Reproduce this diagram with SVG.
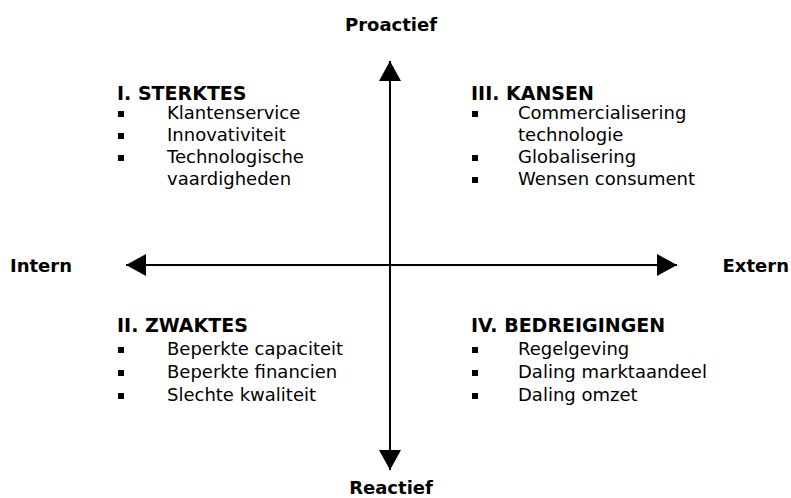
<svg xmlns="http://www.w3.org/2000/svg" width="791" height="498" viewBox="0 0 791 498">
  <style>
    text { font-family: "DejaVu Sans", Verdana, sans-serif; fill: #000; }
    .axis { font-size: 18px; font-weight: bold; }
    .head { font-size: 19px; font-weight: bold; }
    .item { font-size: 18px; }
    .bullet { fill: #000; }
    .line { stroke: #000; stroke-width: 2; fill: none; }
  </style>
  <defs>
    <marker id="arrow" viewBox="0 0 20 22" refX="20" refY="11" markerWidth="20" markerHeight="22" markerUnits="userSpaceOnUse" orient="auto">
      <path d="M0,0 L20,11 L0,22 Z" fill="#000"/>
    </marker>
    <rect id="sq" width="6" height="6" class="bullet"/>
  </defs>

  <rect width="791" height="498" fill="#fff"/>

  <!-- axes -->
  <g id="connectors">
    <line class="line" x1="390" y1="265" x2="390" y2="61" marker-end="url(#arrow)"/>
    <line class="line" x1="390" y1="265" x2="390" y2="470" marker-end="url(#arrow)"/>
    <line class="line" x1="390" y1="265" x2="126" y2="265" marker-end="url(#arrow)"/>
    <line class="line" x1="390" y1="265" x2="677" y2="265" marker-end="url(#arrow)"/>
  </g>

  <!-- axis labels -->
  <g id="label-proactief"><text class="axis" x="391" y="31" text-anchor="middle">Proactief</text></g>
  <g id="label-reactief"><text class="axis" x="391" y="494" text-anchor="middle">Reactief</text></g>
  <g id="label-intern"><text class="axis" x="10" y="272">Intern</text></g>
  <g id="label-extern"><text class="axis" x="789" y="272" text-anchor="end">Extern</text></g>

  <!-- quadrant I -->
  <g id="sterktes">
    <text class="head" x="117" y="100">I. STERKTES</text>
    <use href="#sq" x="118" y="111"/>
    <text class="item" x="167" y="119">Klantenservice</text>
    <use href="#sq" x="118" y="133"/>
    <text class="item" x="167" y="141">Innovativiteit</text>
    <use href="#sq" x="118" y="155"/>
    <text class="item" x="167" y="163">Technologische</text>
    <text class="item" x="167" y="185">vaardigheden</text>
  </g>

  <!-- quadrant III -->
  <g id="kansen">
    <text class="head" x="471" y="100">III. KANSEN</text>
    <use href="#sq" x="472" y="111"/>
    <text class="item" x="518" y="119">Commercialisering</text>
    <text class="item" x="518" y="141">technologie</text>
    <use href="#sq" x="472" y="155"/>
    <text class="item" x="518" y="163">Globalisering</text>
    <use href="#sq" x="472" y="177"/>
    <text class="item" x="518" y="185">Wensen consument</text>
  </g>

  <!-- quadrant II -->
  <g id="zwaktes">
    <text class="head" x="117" y="332">II. ZWAKTES</text>
    <use href="#sq" x="118" y="347"/>
    <text class="item" x="167" y="355">Beperkte capaciteit</text>
    <use href="#sq" x="118" y="370"/>
    <text class="item" x="167" y="378">Beperkte financien</text>
    <use href="#sq" x="118" y="393"/>
    <text class="item" x="167" y="401">Slechte kwaliteit</text>
  </g>

  <!-- quadrant IV -->
  <g id="bedreigingen">
    <text class="head" x="471" y="332">IV. BEDREIGINGEN</text>
    <use href="#sq" x="472" y="347"/>
    <text class="item" x="518" y="355">Regelgeving</text>
    <use href="#sq" x="472" y="370"/>
    <text class="item" x="518" y="378">Daling marktaandeel</text>
    <use href="#sq" x="472" y="393"/>
    <text class="item" x="518" y="401">Daling omzet</text>
  </g>
</svg>
